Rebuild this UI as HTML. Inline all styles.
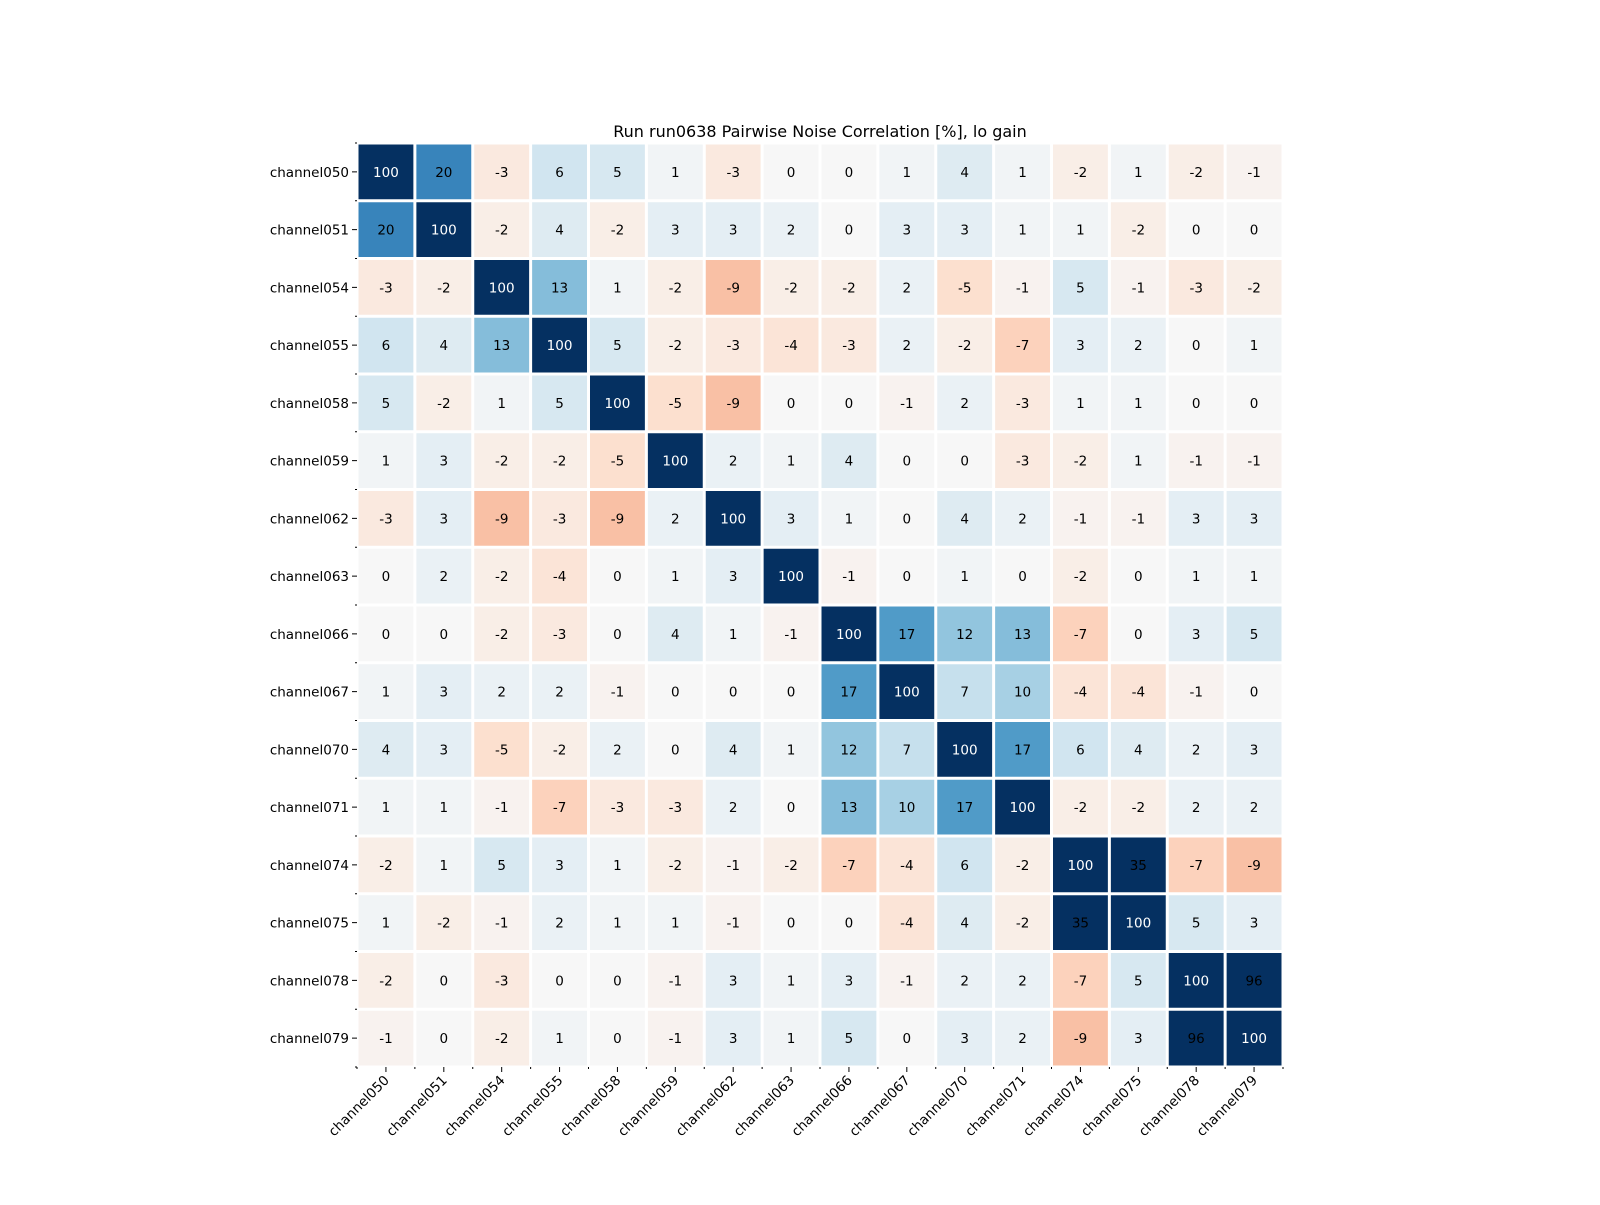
<!DOCTYPE html>
<html><head><meta charset="utf-8">
<style>
body{margin:0;background:#fff;}
svg text{font-family:"DejaVu Sans","Liberation Sans",sans-serif;}
</style></head>
<body>
<svg id="chart" width="1600" height="1200" xmlns="http://www.w3.org/2000/svg">
<rect width="1600" height="1200" fill="#fff"/>
<text x="820" y="137" font-size="16" text-anchor="middle" fill="#000">Run run0638 Pairwise Noise Correlation [%], lo gain</text>
<g id="cells"></g>
<g id="axes"></g>
</svg>
<script>
const channels = ["channel050","channel051","channel054","channel055","channel058","channel059","channel062","channel063","channel066","channel067","channel070","channel071","channel074","channel075","channel078","channel079"];
const values = [
[100,20,-3,6,5,1,-3,0,0,1,4,1,-2,1,-2,-1],
[20,100,-2,4,-2,3,3,2,0,3,3,1,1,-2,0,0],
[-3,-2,100,13,1,-2,-9,-2,-2,2,-5,-1,5,-1,-3,-2],
[6,4,13,100,5,-2,-3,-4,-3,2,-2,-7,3,2,0,1],
[5,-2,1,5,100,-5,-9,0,0,-1,2,-3,1,1,0,0],
[1,3,-2,-2,-5,100,2,1,4,0,0,-3,-2,1,-1,-1],
[-3,3,-9,-3,-9,2,100,3,1,0,4,2,-1,-1,3,3],
[0,2,-2,-4,0,1,3,100,-1,0,1,0,-2,0,1,1],
[0,0,-2,-3,0,4,1,-1,100,17,12,13,-7,0,3,5],
[1,3,2,2,-1,0,0,0,17,100,7,10,-4,-4,-1,0],
[4,3,-5,-2,2,0,4,1,12,7,100,17,6,4,2,3],
[1,1,-1,-7,-3,-3,2,0,13,10,17,100,-2,-2,2,2],
[-2,1,5,3,1,-2,-1,-2,-7,-4,6,-2,100,35,-7,-9],
[1,-2,-1,2,1,1,-1,0,0,-4,4,-2,35,100,5,3],
[-2,0,-3,0,0,-1,3,1,3,-1,2,2,-7,5,100,96],
[-1,0,-2,1,0,-1,3,1,5,0,3,2,-9,3,96,100]
];
const vmin = -30, vmax = 30;
const NS = "http://www.w3.org/2000/svg";
const X0 = 357, Y0 = 143, W = 926, H = 924;
const n = channels.length, cw = W / n, ch = H / n;
const xPos = i => X0 + i * cw;
const yPos = i => Y0 + i * ch;
const anchors = ["#67001f","#b2182b","#d6604d","#f4a582","#fddbc7","#f7f7f7","#d1e5f0","#92c5de","#4393c3","#2166ac","#053061"];
function hex(h){return [1,3,5].map(k=>parseInt(h.substr(k,2),16));}
function color(v){
  let t = (v - vmin) / (vmax - vmin); t = Math.max(0, Math.min(1, t));
  const p = t * (anchors.length - 1), i = Math.min(Math.floor(p), anchors.length - 2), f = p - i;
  const a = hex(anchors[i]), b = hex(anchors[i+1]);
  return "rgb(" + a.map((c,k)=>Math.round(c + (b[k]-c)*f)).join(",") + ")";
}
const cells = document.getElementById("cells");
const axes = document.getElementById("axes");
for (let r = 0; r < n; r++) for (let c = 0; c < n; c++) {
  const v = values[r][c];
  const rect = document.createElementNS(NS, "rect");
  rect.setAttribute("x", xPos(c) + 1.5); rect.setAttribute("y", yPos(r) + 1.5);
  rect.setAttribute("width", cw - 3); rect.setAttribute("height", ch - 3);
  rect.setAttribute("fill", color(v));
  
  
  cells.appendChild(rect);
  const t = document.createElementNS(NS, "text");
  t.setAttribute("x", xPos(c) + cw / 2); t.setAttribute("y", yPos(r) + ch / 2 + 5);
  t.setAttribute("text-anchor", "middle"); t.setAttribute("font-size", "13.5");
  t.setAttribute("fill", v >= 97 ? "#fff" : "#000");
  t.textContent = v;
  
  
  cells.appendChild(t);
}
function line(x1,y1,x2,y2){
  const l = document.createElementNS(NS, "line");
  l.setAttribute("x1",x1);l.setAttribute("y1",y1);l.setAttribute("x2",x2);l.setAttribute("y2",y2);
  l.setAttribute("stroke","#000");l.setAttribute("stroke-width","1");
  
  
  axes.appendChild(l);
}
for (let i = 0; i <= n; i++) {
  line(X0 - 2, yPos(i), X0, yPos(i));
  line(xPos(i), Y0 + H, xPos(i), Y0 + H + 2);
}
for (let i = 0; i < n; i++) {
  const cy = yPos(i) + ch / 2, cx = xPos(i) + cw / 2;
  line(X0 - 5, cy, X0, cy);
  line(cx, Y0 + H, cx, Y0 + H + 5);
  const yl = document.createElementNS(NS, "text");
  yl.setAttribute("x", X0 - 8); yl.setAttribute("y", cy + 5);
  yl.setAttribute("text-anchor", "end"); yl.setAttribute("font-size", "13.5");
  yl.textContent = channels[i];
  
  
  axes.appendChild(yl);
  const xl = document.createElementNS(NS, "text");
  xl.setAttribute("transform", "translate(" + (cx + 4) + "," + (Y0 + H + 14) + ") rotate(-45)");
  xl.setAttribute("text-anchor", "end"); xl.setAttribute("font-size", "13.5");
  xl.textContent = channels[i];
  
  
  axes.appendChild(xl);
}
</script>
</body></html>
